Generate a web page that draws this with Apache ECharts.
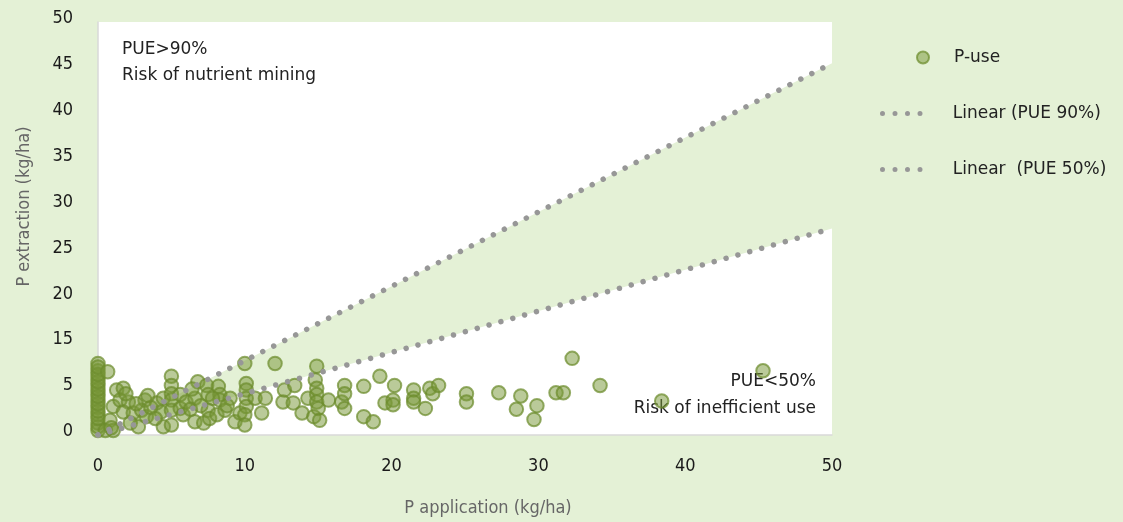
<!DOCTYPE html>
<html>
<head>
<meta charset="utf-8">
<script src="https://cdn.jsdelivr.net/npm/echarts@6/dist/echarts.min.js"></script>
<style>
html,body{margin:0;padding:0;background:#e4f1d6;}
#chart{width:1123px;height:522px;}
</style>
</head>
<body>
<div id="chart"></div>
<script>
// ---- data (y values in drawn-axis units; tick labels below) ----
const pApplication = [
  0,0,0,0,0,0,0,0,0,0,0,0,0,0,0,0,0,0,0,
  0.66,1.27,1.72,1.04,1.5,2.07,0.82,1.04,1.72,2.4,2.2,2.75,3.2,2.97,3.3,4.0,4.45,4.3,4.45,
  5.0,5.0,5.0,5.0,5.0,5.0,5.6,5.6,5.8,6.0,6.6,6.6,6.8,7.2,7.4,7.5,7.5,7.6,8.1,8.2,8.3,8.3,8.65,9.0,9.33,9.67,
  10.0,10.1,10.1,10.1,10.1,10.0,10.0,10.7,11.15,11.4,12.06,12.6,12.7,13.3,13.4,13.9,14.3,14.7,14.8,14.9,14.9,14.9,14.9,15.0,15.1,15.7,
  16.6,16.8,16.8,16.8,18.1,18.1,18.75,19.2,19.55,20.1,20.1,20.2,21.5,21.5,21.5,22.3,22.6,22.8,23.2,25.1,25.1,
  27.3,28.8,28.5,29.9,29.7,31.2,31.7,32.3,34.2,38.4,45.3,
  0.5,0.9,2.6,3.6,3.9,1.9,3.4,6.3,7.0,8.8,6.4,7.8
];
const pExtraction = [
  0.5,1.3,2.2,3.0,3.8,4.6,5.4,6.2,7.0,7.8,0.9,1.8,2.6,3.4,4.2,5.0,5.8,6.6,7.4,
  6.9,4.9,5.1,3.1,3.8,3.6,1.6,0.5,2.5,2.4,1.3,0.9,3.8,2.7,2.0,3.5,4.0,2.5,0.9,
  6.4,5.4,4.5,3.8,2.7,1.1,4.4,2.9,2.2,3.6,4.0,1.45,5.8,1.3,5.4,4.4,2.7,1.8,2.2,5.3,4.4,3.8,2.7,4.0,1.45,2.4,
  7.8,5.6,4.9,4.0,3.1,2.2,1.1,4.0,2.4,4.0,7.8,3.6,4.9,3.5,5.4,2.4,4.0,2.0,6.0,7.5,5.1,4.4,3.6,2.9,1.6,3.8,
  3.6,5.4,4.5,2.9,5.3,2.0,1.45,6.4,3.5,3.8,3.3,5.4,4.9,4.0,3.6,2.9,5.1,4.5,5.4,4.5,3.6,
  4.6,4.25,2.8,3.2,1.7,4.6,4.6,8.35,5.4,3.7,7.0,
  0.5,0.8,3.4,3.0,1.8,4.5,4.3,2.8,3.2,3.2,5.0,4.0
];
const pue90X = [0, 50];
const pue90Y = [0, 40.5];
const pue50X = [0, 50];
const pue50Y = [0, 22.5];
const xTickLabels = ['0','10','20','30','40','50'];
const yTickLabels = ['0','5','15','20','25','30','35','40','45','50'];
const seriesNames = ['P-use', 'Linear (PUE 90%)', 'Linear  (PUE 50%)'];
const notes = {
  high: ['PUE>90%', 'Risk of nutrient mining'],
  low: ['PUE<50%', 'Risk of inefficient use']
};

const scatterData = pApplication.map((x, i) => [x, pExtraction[i]]);
const line90 = pue90X.map((x, i) => [x, pue90Y[i]]);
const line50 = pue50X.map((x, i) => [x, pue50Y[i]]);

const condensed = "'Liberation Sans Narrow','DejaVu Sans Condensed','Roboto',sans-serif";
const sans = "'DejaVu Sans','Noto Sans',sans-serif";
const dotColor = '#979797';
const dotLine = { color: dotColor, width: 5.5, type: [0.01, 12.3], cap: 'round' };
// four dots legend icon
const dotIcon = 'path://M0,2.5a2.5,2.5 0 1,0 5,0a2.5,2.5 0 1,0 -5,0Z' +
  'M12.5,2.5a2.5,2.5 0 1,0 5,0a2.5,2.5 0 1,0 -5,0Z' +
  'M25,2.5a2.5,2.5 0 1,0 5,0a2.5,2.5 0 1,0 -5,0Z' +
  'M37.5,2.5a2.5,2.5 0 1,0 5,0a2.5,2.5 0 1,0 -5,0Z';

const chart = echarts.init(document.getElementById('chart'), null, { renderer: 'canvas' });
chart.setOption({
  backgroundColor: '#e4f1d6',
  animation: false,
  grid: { left: 98, right: 291, top: 22, bottom: 87, show: true, backgroundColor: '#ffffff', borderWidth: 0 },
  xAxis: {
    type: 'value', min: 0, max: 50, interval: 10,
    axisLine: { show: true, lineStyle: { color: '#d9d9d9', width: 1.5 } },
    axisTick: { show: false }, splitLine: { show: false },
    axisLabel: { margin: 22, color: '#1a1a1a', fontSize: 18, fontFamily: condensed,
      formatter: (v) => xTickLabels[Math.round(v / 10)] },
    name: 'P application (kg/ha)', nameLocation: 'middle', nameGap: 64,
    nameTextStyle: { color: '#666666', fontSize: 18, fontFamily: condensed, padding: [0, 0, 0, 46] }
  },
  yAxis: {
    type: 'value', min: 0, max: 45, interval: 5,
    axisLine: { show: true, lineStyle: { color: '#d9d9d9', width: 1.5 } },
    axisTick: { show: false }, splitLine: { show: false },
    axisLabel: { margin: 25, color: '#1a1a1a', fontSize: 18, fontFamily: condensed,
      verticalAlign: 'bottom', lineHeight: 7,
      formatter: (v) => yTickLabels[Math.round(v / 5)] },
    name: 'P extraction (kg/ha)', nameLocation: 'middle', nameGap: 65,
    nameTextStyle: { color: '#666666', fontSize: 18, fontFamily: condensed, padding: [0, 0, 0, 44] }
  },
  legend: [
    {
      orient: 'vertical', left: 911, top: 44, itemWidth: 12, itemHeight: 12,
      data: [{ name: seriesNames[0], icon: 'circle' }],
      textStyle: { color: '#222', fontSize: 17, fontFamily: sans, padding: [0, 0, 0, 20] }
    },
    {
      orient: 'vertical', left: 875, top: 97, itemWidth: 43, itemHeight: 5, itemGap: 33,
      data: [{ name: seriesNames[1], icon: dotIcon }, { name: seriesNames[2], icon: dotIcon }],
      itemStyle: { color: dotColor },
      textStyle: { color: '#222', fontSize: 17, fontFamily: sans, lineHeight: 23, padding: [0, 0, 0, 25] }
    }
  ],
  graphic: [
    { type: 'text', left: 122, top: 41, style: { text: notes.high[0], fill: '#222', font: '17px ' + sans } },
    { type: 'text', left: 122, top: 67, style: { text: notes.high[1], fill: '#222', font: '17px ' + sans } },
    { type: 'text', right: 1123 - 816, top: 373, style: { text: notes.low[0], fill: '#222', font: '17px ' + sans } },
    { type: 'text', right: 1123 - 816, top: 400, style: { text: notes.low[1], fill: '#222', font: '17px ' + sans } }
  ],
  series: [
    {
      type: 'custom', name: 'band', silent: true, z: 1, clip: true,
      data: [0],
      renderItem: (params, api) => {
        const pts = line90.map(p => api.coord(p)).concat(line50.slice().reverse().map(p => api.coord(p)));
        return { type: 'polygon', shape: { points: pts }, style: { fill: '#e4f1d6' } };
      }
    },
    {
      type: 'scatter', name: seriesNames[0], z: 3, data: scatterData,
      symbol: 'circle', symbolSize: 13.5,
      itemStyle: { color: 'rgba(120,152,55,0.64)', borderColor: 'rgba(108,140,45,0.9)', borderWidth: 2 }
    },
    {
      type: 'line', name: seriesNames[1], z: 4, data: line90, symbol: 'none',
      lineStyle: dotLine, itemStyle: { color: dotColor }
    },
    {
      type: 'line', name: seriesNames[2], z: 4, data: line50, symbol: 'none',
      lineStyle: dotLine, itemStyle: { color: dotColor }
    }
  ]
});
</script>
</body>
</html>
